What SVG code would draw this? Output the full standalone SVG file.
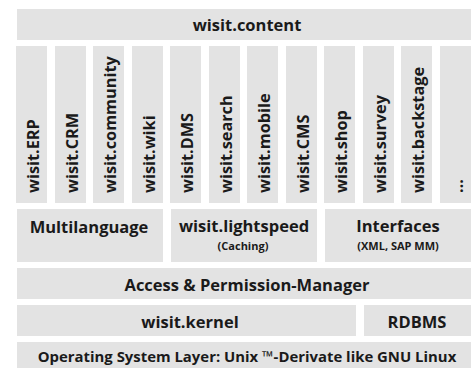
<svg xmlns="http://www.w3.org/2000/svg" width="473" height="368" viewBox="0 0 473 368">
<style>
.b{fill:#e3e3e3}
.t{font-family:"Open Sans","Noto Sans",sans-serif;font-weight:700;font-size:16.5px;fill:#1a1a1a;text-anchor:middle}
.v{font-family:"Open Sans","Noto Sans",sans-serif;font-weight:700;font-size:16.3px;fill:#1a1a1a;text-anchor:start}
.s{font-family:"Open Sans","Noto Sans",sans-serif;font-weight:700;font-size:11px;fill:#1a1a1a;text-anchor:middle}
.o{font-size:14.9px}
</style>
<rect width="473" height="368" fill="#ffffff"/>
<g id="content"><rect class="b" x="17" y="9" width="454" height="31"/><text class="t" x="247" y="31">wisit.content</text></g>
<g id="erp"><rect class="b" x="16" y="46" width="31" height="157"/><text class="v" transform="translate(39,193) rotate(-90)">wisit.ERP</text></g>
<g id="crm"><rect class="b" x="55" y="46" width="31" height="157"/><text class="v" transform="translate(78,193) rotate(-90)">wisit.CRM</text></g>
<g id="community"><rect class="b" x="93" y="46" width="31" height="157"/><text class="v" transform="translate(116,193) rotate(-90)">wisit.community</text></g>
<g id="wiki"><rect class="b" x="132" y="46" width="31" height="157"/><text class="v" transform="translate(155,193) rotate(-90)">wisit.wiki</text></g>
<g id="dms"><rect class="b" x="170" y="46" width="31" height="157"/><text class="v" transform="translate(193,193) rotate(-90)">wisit.DMS</text></g>
<g id="search"><rect class="b" x="209" y="46" width="31" height="157"/><text class="v" transform="translate(232,193) rotate(-90)">wisit.search</text></g>
<g id="mobile"><rect class="b" x="247" y="46" width="31" height="157"/><text class="v" transform="translate(270,193) rotate(-90)">wisit.mobile</text></g>
<g id="cms"><rect class="b" x="286" y="46" width="31" height="157"/><text class="v" transform="translate(309,193) rotate(-90)">wisit.CMS</text></g>
<g id="shop"><rect class="b" x="324" y="46" width="31" height="157"/><text class="v" transform="translate(347,193) rotate(-90)">wisit.shop</text></g>
<g id="survey"><rect class="b" x="363" y="46" width="31" height="157"/><text class="v" transform="translate(386,193) rotate(-90)">wisit.survey</text></g>
<g id="backstage"><rect class="b" x="401" y="46" width="31" height="157"/><text class="v" transform="translate(424,193) rotate(-90)">wisit.backstage</text></g>
<g id="more"><rect class="b" x="440" y="46" width="31" height="157"/><text class="v" transform="translate(463,193) rotate(-90)">…</text></g>
<g id="multilanguage"><rect class="b" x="17" y="209" width="146" height="53"/><text class="t" x="89" y="232.5">Multilanguage</text></g>
<g id="lightspeed"><rect class="b" x="171" y="209" width="146" height="53"/><text class="t" x="244" y="232">wisit.lightspeed</text><text class="s" x="243" y="250">(Caching)</text></g>
<g id="interfaces"><rect class="b" x="325" y="209" width="146" height="53"/><text class="t" x="398" y="232">Interfaces</text><text class="s" x="398" y="250">(XML, SAP MM)</text></g>
<g id="access"><rect class="b" x="17" y="268" width="454" height="31"/><text class="t" x="247" y="291">Access &amp; Permission-Manager</text></g>
<g id="kernel"><rect class="b" x="17" y="305" width="339" height="31"/><text class="t" x="190" y="327.5">wisit.kernel</text></g>
<g id="rdbms"><rect class="b" x="364" y="305" width="107" height="31"/><text class="t" x="417" y="327.5">RDBMS</text></g>
<g id="os"><rect class="b" x="17" y="342" width="454" height="26"/><text class="t o" x="247" y="362">Operating System Layer: Unix ™-Derivate like GNU Linux</text></g>
<g id="connectors"></g>
</svg>
